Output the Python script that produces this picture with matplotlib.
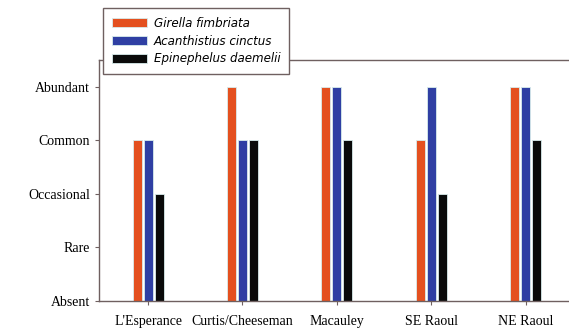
import matplotlib.pyplot as plt
import numpy as np

sites = ["L'Esperance", "Curtis/Cheeseman", "Macauley", "SE Raoul", "NE Raoul"]
levels = ["Absent", "Rare", "Occasional", "Common", "Abundant"]
species = ["Girella fimbriata", "Acanthistius cinctus", "Epinephelus daemelii"]
girella = [3, 4, 4, 3, 4]
acanthistius = [3, 3, 4, 4, 4]
epinephelus = [2, 3, 3, 2, 3]
colors = ["#E4501F", "#2F3FA3", "#0A0A0A"]

fig = plt.figure(figsize=(5.69, 3.31), dpi=100)
ax = fig.add_axes([0.174, 0.091, 0.826, 0.728])

x = np.arange(len(sites))
w = 0.095
step = 0.117
for i, (vals, c, name) in enumerate(zip([girella, acanthistius, epinephelus], colors, species)):
    ax.bar(x + (i - 1) * step, vals, width=w, color=c, edgecolor="#d8ecec",
           linewidth=0.6, label=name, zorder=2)

ax.set_ylim(0, 4.5)
ax.set_xlim(-0.52, 4.46)
ax.set_yticks(range(5))
ax.set_yticklabels(levels, family="Liberation Serif", fontsize=10)
ax.set_xticks(x)
ax.set_xticklabels(sites, family="Liberation Serif", fontsize=10)
ax.tick_params(axis="both", length=3, color="#6f6060", width=0.8)
ax.tick_params(axis="x", pad=7)

for s in ["left", "bottom", "top"]:
    ax.spines[s].set_color("#6f6060")
    ax.spines[s].set_linewidth(1.0)
ax.spines["right"].set_visible(False)

leg = ax.legend(loc="upper left", bbox_to_anchor=(0.181, 0.976), bbox_transform=fig.transFigure,
                borderaxespad=0,
                prop={"family": "DejaVu Sans", "style": "italic", "size": 8.6},
                fancybox=False, framealpha=1, edgecolor="#6f6060",
                handlelength=2.9, handleheight=0.75, handletextpad=0.6,
                borderpad=0.75, labelspacing=0.4)
leg.get_frame().set_linewidth(1.0)
leg.set_zorder(5)

fig.savefig("out.png", dpi=100)
